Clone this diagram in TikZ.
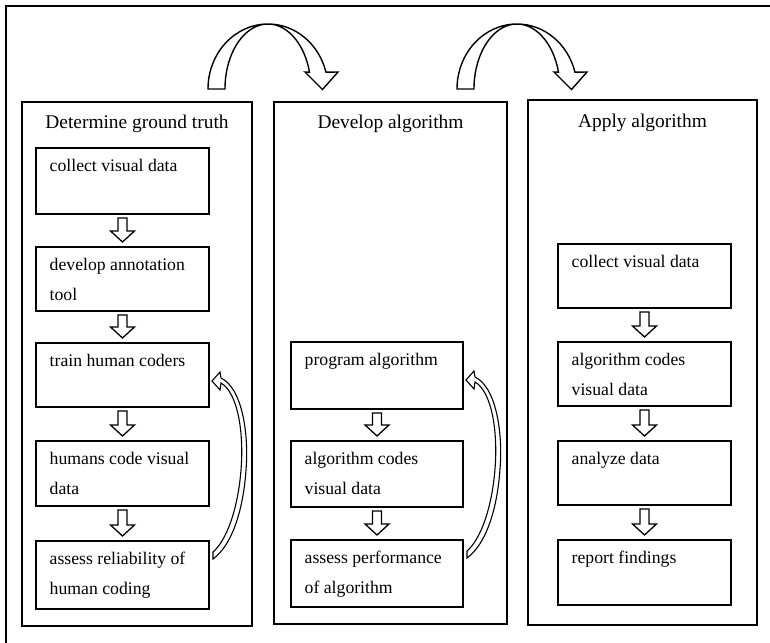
\documentclass[tikz,border=0pt]{standalone}
\usepackage{fontspec}
\setmainfont{Liberation Serif}
\usetikzlibrary{calc}
\tikzset{
  colbox/.style={draw, line width=1.4pt, anchor=north west, inner sep=0pt, outer sep=0pt},
  inbox/.style={draw, line width=1.3pt, anchor=north west, inner sep=0pt, outer sep=0pt},
  boxtxt/.style={anchor=base west, inner sep=0pt, font=\fontsize{17.7}{29.5}\selectfont},
  coltitle/.style={anchor=base, inner sep=0pt, font=\fontsize{19.4}{23}\selectfont},
  blk/.style={draw, fill=white, line width=1.3pt, line join=miter},
  fb/.style={draw, fill=white, line width=1.1pt, line join=miter},
  tarr/.style={draw, fill=white, line width=1.4pt, line join=miter},
}
\newcommand\flowbox[6]{%
  \node[inbox, minimum width=#4pt, minimum height=#5pt] (#1) at (#2,#3) {};
  \node[boxtxt] (#1t) at ($(#1.north west)+(13.5,23.5)$) {\begin{tabular}[t]{@{}l@{}}#6\end{tabular}};
}
\newcommand\downblk[2]{%
  \draw[blk] ($(#1.south)+(-4.5,4)$) -- ($(#2.north)+(-4.5,-16)$) -- ($(#2.north)+(-12,-16)$)
    -- ($(#2.north)+(0,-5)$) -- ($(#2.north)+(12,-16)$) -- ($(#2.north)+(4.5,-16)$)
    -- ($(#1.south)+(4.5,4)$) -- cycle;
}
\newcommand\fbarrow[2]{%
  \begin{scope}[shift={(#2.north east)}]
    \draw[fb] (4,209) .. controls (18,197) and (29,165) .. (32,127)
      .. controls (35,90) and (29,50) .. (12,40) -- (11,47) -- (3,38) -- (11,29) -- (12,35)
      .. controls (33,45) and (40,90) .. (37,127)
      .. controls (34,170) and (22,203) .. (4,216) -- cycle;
  \end{scope}
}
\newcommand\toparrow[1]{%
  \begin{scope}[shift={(#1,0)}]
    \draw[tarr] (208,89) arc[start angle=180, end angle=345, x radius=60, y radius=65]
      -- (338,72) -- (322.5,89.5) -- (305,72) -- (309.5,72.18)
      arc[start angle=345, end angle=180, x radius=43, y radius=65] -- cycle;
  \end{scope}
}
\begin{document}
\begin{tikzpicture}[x=1pt,y=-1pt]
\useasboundingbox (0,0) rectangle (770,642);
\fill[white] (0,0) rectangle (770,642);
\draw[line width=2.5pt] (6,670) -- (6,6) -- (800,6);

% columns
\node[colbox, minimum width=230pt, minimum height=524pt] (col1) at (22,102) {};
\node[colbox, minimum width=233pt, minimum height=522pt] (col2) at (274,102) {};
\node[colbox, minimum width=229pt, minimum height=525pt] (col3) at (528,100) {};
\node[coltitle] (t1) at ($(col1.north)+(0,26)$) {Determine ground truth};
\node[coltitle] (t2) at ($(col2.north)+(0,26)$) {Develop algorithm};
\node[coltitle] (t3) at ($(col3.north)+(0,27)$) {Apply algorithm};

% column 1
\flowbox{c1a}{36}{148}{173}{66}{collect visual data}
\flowbox{c1b}{36}{247}{173}{64}{develop annotation\\tool}
\flowbox{c1c}{36}{343}{173}{64}{train human coders}
\flowbox{c1d}{36}{441}{173}{65}{humans code visual\\data}
\flowbox{c1e}{36}{541}{173}{68}{assess reliability of\\human coding}
% column 2
\flowbox{c2a}{291}{342}{172}{67}{program algorithm}
\flowbox{c2b}{291}{441}{172}{66}{algorithm codes\\visual data}
\flowbox{c2c}{291}{540}{172}{67}{assess performance\\of algorithm}
% column 3
\flowbox{c3a}{558}{244}{173}{64}{collect visual data}
\flowbox{c3b}{558}{342}{173}{64}{algorithm codes\\visual data}
\flowbox{c3c}{558}{441}{173}{64}{analyze data}
\flowbox{c3d}{558}{540}{173}{65}{report findings}

% block arrows
\downblk{c1a}{c1b}
\downblk{c1b}{c1c}
\downblk{c1c}{c1d}
\downblk{c1d}{c1e}
\downblk{c2a}{c2b}
\downblk{c2b}{c2c}
\downblk{c3a}{c3b}
\downblk{c3b}{c3c}
\downblk{c3c}{c3d}

% feedback arrows
\fbarrow{c1e}{c1c}
\fbarrow{c2c}{c2a}

% top curved arrows
\toparrow{0}
\toparrow{249}
\end{tikzpicture}
\end{document}
